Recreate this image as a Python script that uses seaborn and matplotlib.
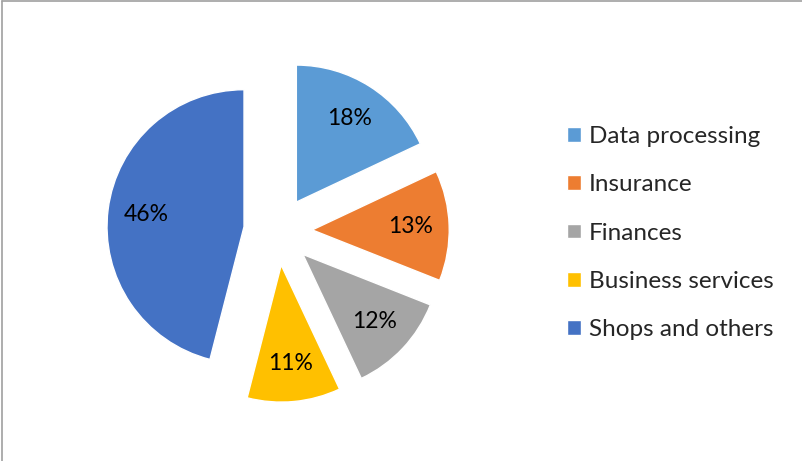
import matplotlib.pyplot as plt
import matplotlib
import seaborn as sns
from matplotlib.lines import Line2D

sectors = ['Data processing', 'Insurance', 'Finances', 'Business services', 'Shops and others']
shares = [18, 13, 12, 11, 46]
colors = ['#5B9BD5', '#ED7D31', '#A5A5A5', '#FFC000', '#4472C4']

sns.set_theme(style='white')
plt.rcParams['font.family'] = ['Lato', 'DejaVu Sans']

W, H = 802, 461
fig = plt.figure(figsize=(W / 100, H / 100), dpi=100)

# pie centre (px from top-left) and radius in px
cx, cy, r = 278, 231, 137
box = 400
ax = fig.add_axes([(cx - box / 2) / W, (H - cy - box / 2) / H, box / W, box / H])

wedges, texts, autotexts = ax.pie(shares, colors=colors, startangle=90, counterclock=False,
                                  explode=[0.25] * len(shares), autopct='%d%%', pctdistance=0.72,
                                  textprops={'fontsize': 16.5, 'color': 'black'})
lim = box / 2 / r
ax.set_xlim(-lim, lim)
ax.set_ylim(-lim, lim)
ax.set_aspect('equal')
ax.axis('off')

fig.legend(wedges, sectors, loc='upper left', bbox_to_anchor=(555 / W, 1 - 114 / H),
           frameon=False, fontsize=17.5, handlelength=0.55, handleheight=0.55,
           handletextpad=0.35, labelspacing=1.12, borderpad=0)

# chart frame (only top/left visible in the crop)
fig.add_artist(Line2D([1.5 / W, 1.5 / W], [0, 1 - 1.5 / H], color='#a0a0a0', lw=1.2))
fig.add_artist(Line2D([1.5 / W, 1], [1 - 1.5 / H, 1 - 1.5 / H], color='#a0a0a0', lw=1.2))

fig.savefig('out.png', dpi=100)
